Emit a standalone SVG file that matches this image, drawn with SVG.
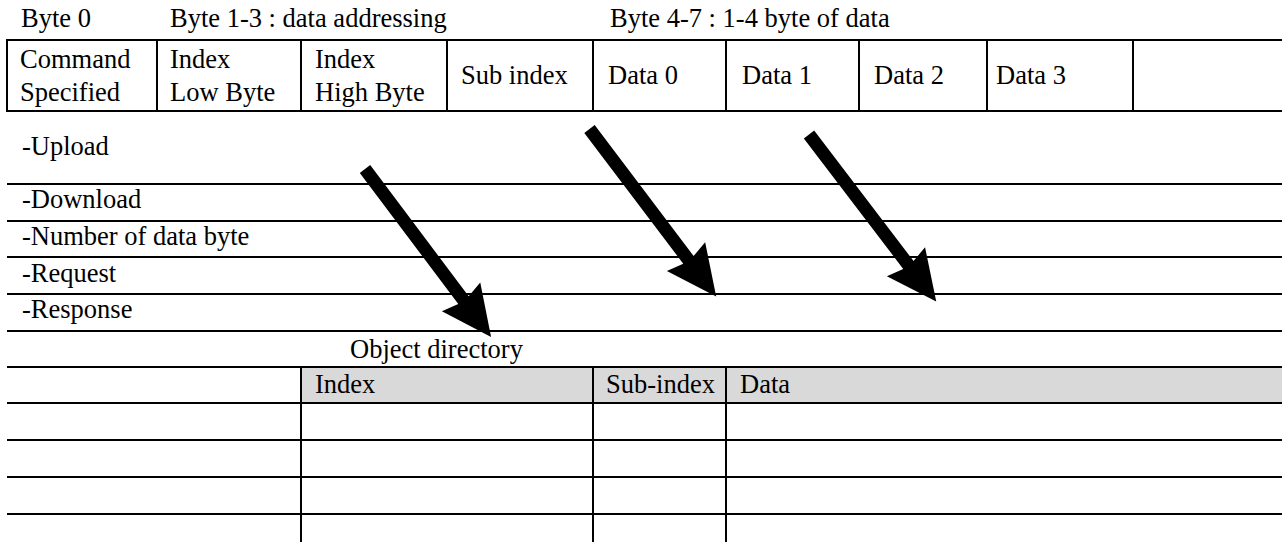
<svg xmlns="http://www.w3.org/2000/svg" width="1282" height="542" viewBox="0 0 1282 542">
<style>
text{font-family:"Liberation Serif","Times New Roman",serif;font-size:26.5px;fill:#000}
.ln{stroke:#000;stroke-width:2;fill:none}
.hdr{fill:#d9d9d9}
.arrow{fill:#000}
</style>
<defs>
<path id="arr" d="M0,-6.5 L164,-6.5 L160,-24 L210,0 L160,24 L164,6.5 L0,6.5 Z"/>
</defs>
<rect width="1282" height="542" fill="#fff"/>
<g id="byte-labels">
<text x="21" y="27">Byte 0</text>
<text x="170" y="27">Byte 1-3 : data addressing</text>
<text x="610" y="27">Byte 4-7 : 1-4 byte of data</text>
</g>
<g id="sdo-frame">
<path class="ln" d="M7,40 H1282 M7,111 H1282 M7,39 V112 M157,40 V111 M301,40 V111 M447,40 V111 M593,40 V111 M726,40 V111 M859,40 V111 M987,40 V111 M1133,40 V111"/>
<g id="cell-command"><text x="20" y="68">Command</text><text x="20" y="101">Specified</text></g>
<g id="cell-index-low"><text x="170" y="68">Index</text><text x="170" y="101">Low Byte</text></g>
<g id="cell-index-high"><text x="315" y="68">Index</text><text x="315" y="101">High Byte</text></g>
<g id="cell-subindex"><text x="461" y="84">Sub index</text></g>
<g id="cell-data0"><text x="608" y="84">Data 0</text></g>
<g id="cell-data1"><text x="742" y="84">Data 1</text></g>
<g id="cell-data2"><text x="874" y="84">Data 2</text></g>
<g id="cell-data3"><text x="996" y="84">Data 3</text></g>
</g>
<g id="command-list">
<path class="ln" d="M7,184 H1282 M7,221 H1282 M7,257 H1282 M7,294 H1282 M7,331 H1282"/>
<text x="22" y="155">-Upload</text>
<text x="22" y="208">-Download</text>
<text x="22" y="245">-Number of data byte</text>
<text x="22" y="282">-Request</text>
<text x="22" y="318">-Response</text>
</g>
<g id="object-directory">
<rect class="hdr" x="301" y="367" width="981" height="36"/>
<path class="ln" d="M7,367 H1282 M7,403 H1282 M7,440 H1282 M7,477 H1282 M7,514 H1282 M301,367 V542 M593,367 V542 M726,367 V542"/>
<text x="350" y="358">Object directory</text>
<text x="315" y="393">Index</text>
<text x="606" y="393">Sub-index</text>
<text x="740" y="393">Data</text>
</g>
<g id="connectors">
<use href="#arr" class="arrow" transform="translate(365,169) rotate(53.1)"/>
<use href="#arr" class="arrow" transform="translate(589.5,129) rotate(52.9)"/>
<use href="#arr" class="arrow" transform="translate(809,134.5) rotate(52.7)"/>
</g>
</svg>
